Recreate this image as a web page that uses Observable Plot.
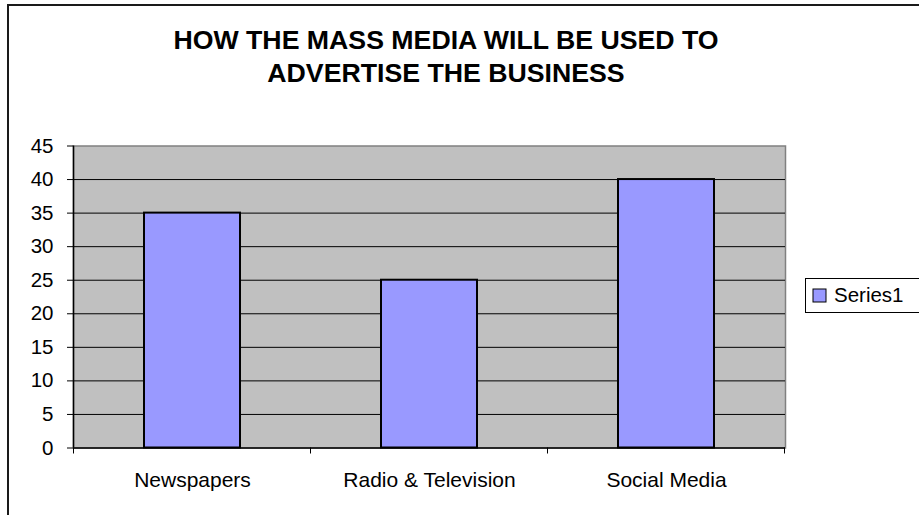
<!DOCTYPE html>
<html>
<head>
<meta charset="utf-8">
<script src="https://cdn.jsdelivr.net/npm/d3@7"></script>
<script src="https://cdn.jsdelivr.net/npm/@observablehq/plot@0.6"></script>
<style>
  html, body { margin: 0; padding: 0; background: #fff; }
  #wrap { position: relative; width: 919px; height: 515px; overflow: hidden; background: #fff;
          font-family: "Liberation Sans", Arial, sans-serif; }
  #border { position: absolute; left: 7px; top: 4px; width: 1000px; height: 1000px;
            border: 2px solid #1a1a1a; box-sizing: border-box; }
  #title { position: absolute; left: 0; top: 24px; width: 892px; text-align: center;
           font-weight: bold; font-size: 26.7px; line-height: 33px; color: #000; }
  #chart { position: absolute; left: 0; top: 0; }
  #legend { position: absolute; left: 805px; top: 278px; width: 140px; height: 35px;
            border: 1px solid #000; box-sizing: border-box; background: #fff; }
  #legend > div { font-family: "Liberation Sans", Arial, sans-serif !important; font-size: 20.5px !important;
                  color: #000 !important; margin: 0 !important; padding: 0 !important; min-height: 0 !important; }
  #legend > div > span { position: absolute; left: 7px; top: 5px; line-height: 22px !important;
                         margin: 0 !important; font-size: 20.5px !important; }
  #legend svg { margin-right: 8px !important; vertical-align: -1px; }
  #legend svg rect { stroke: #000; stroke-width: 1; }
</style>
</head>
<body>
<div id="wrap">
  <div id="border"></div>
  <div id="title">HOW THE MASS MEDIA WILL BE USED TO<br>ADVERTISE THE BUSINESS</div>
  <div id="chart"></div>
  <div id="legend"></div>
</div>
<script>
const categories = ["Newspapers", "Radio & Television", "Social Media"];
const series1 = [35, 25, 40];
const seriesName = "Series1";
const yTicks = [0, 5, 10, 15, 20, 25, 30, 35, 40, 45];

const data = categories.map((c, i) => ({category: c, value: series1[i]}));
const font = "'Liberation Sans', Arial, sans-serif";

const plot = Plot.plot({
  width: 919,
  height: 515,
  marginLeft: 73,
  marginRight: 134,
  marginTop: 145.5,
  marginBottom: 67.5,
  style: {fontFamily: font, fontSize: "20px", color: "#000", background: "transparent", overflow: "visible"},
  x: {domain: categories, paddingInner: 0.595, paddingOuter: 0.2975, align: 0.5, label: null, axis: null},
  y: {domain: [0, 45], label: null, axis: null},
  marks: [
    Plot.frame({fill: "#c0c0c0", stroke: "#808080", strokeWidth: 1.5}),
    Plot.gridY(yTicks.filter(d => d > 0 && d < 45), {stroke: "#000", strokeOpacity: 1, strokeWidth: 1}),
    Plot.barY(data, {x: "category", y: "value", fill: "#9999ff", stroke: "#000", strokeWidth: 2}),
    Plot.axisY({ticks: yTicks, tickSize: 6, tickPadding: 14, fontSize: 20.5, label: null, stroke: "#000"}),
    Plot.axisX({tickSize: 0, tickPadding: 24, fontSize: 21, label: null}),
    Plot.ruleY([0], {stroke: "#000", strokeWidth: 1.5})
  ]
});
document.getElementById("chart").appendChild(plot);

// left axis line and category boundary ticks, from the plot's own scales
const xs = plot.scale("x");
const ys = plot.scale("y");
const gap = (xs.step - xs.bandwidth) / 2;
const bounds = categories.map(c => xs.apply(c) - gap);
bounds.push(xs.apply(categories[categories.length - 1]) + xs.bandwidth + gap);
const y0 = ys.apply(0), yTop = ys.apply(45);
const svg = d3.select(plot);
const g = svg.append("g").attr("stroke", "#000").attr("stroke-width", 1);
g.append("line").attr("x1", bounds[0]).attr("x2", bounds[0]).attr("y1", yTop).attr("y2", y0).attr("stroke-width", 1.5);
g.selectAll("line.bt").data(bounds).join("line").attr("class", "bt")
  .attr("x1", d => d).attr("x2", d => d).attr("y1", y0).attr("y2", y0 + 6);

const legend = Plot.legend({
  color: {type: "categorical", domain: [seriesName], range: ["#9999ff"]},
  legend: "swatches",
  swatchSize: 13,
  style: {fontFamily: font, fontSize: "20.5px", color: "#000"},
  className: "lg"
});
document.getElementById("legend").appendChild(legend);
</script>
</body>
</html>
